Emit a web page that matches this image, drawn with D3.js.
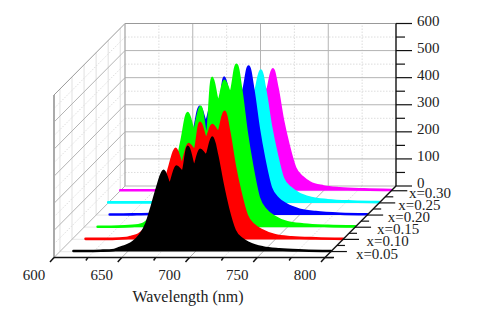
<!DOCTYPE html>
<html>
<head>
<meta charset="utf-8">
<script src="https://cdn.jsdelivr.net/npm/d3@7/dist/d3.min.js"></script>
<style>
  html, body { margin: 0; padding: 0; background: #fff; }
  text { font-family: "Liberation Serif", serif; fill: #222; }
</style>
</head>
<body>
<svg id="chart" width="488" height="312"></svg>
<script>
const wavelengths = [600,610,620,630,640,644,649,654,659,664,668,672,676.5,681,686,690.5,694.5,699,703.5,708,712.5,716,720,724,729,734.5,740,750,762,780,800];

const s005 = [null,2,2,3,6,13,22,35,60,105,170,240,298,253,314,295,387,318,376,356,421,355,250,160,78,46,30,15,8,4,2];
const s010 = [null,2,2,2,5,10,18,40,85,135,195,270,334,284,352,330,430,376,422,398,471,397,275,180,88,52,34,15,8,4,2];
const s015 = [null,2,2,3,7,13,36,62,105,165,225,320,422,362,445,336,552,465,541,498,600,506,350,228,108,62,40,18,10,5,3];
const s020 = [null,2,2,3,4,10,25,50,95,155,215,305,400,350,420,370,508,430,495,455,548,462,320,208,100,60,40,20,11,5,3];
const s025 = [2,2,2,2,3,6,15,35,75,135,190,270,355,310,375,330,455,395,440,410,489,412,285,187,90,56,36,18,10,5,3];
const s030 = [2,2,2,2,2,5,12,30,65,120,170,245,330,285,345,305,420,365,405,370,448,378,261,172,85,50,30,16,9,5,3];

const seriesNames = ["x=0.05","x=0.10","x=0.15","x=0.20","x=0.25","x=0.30"];
const seriesZ = [0.05,0.10,0.15,0.20,0.25,0.30];
const seriesValues = [s005,s010,s015,s020,s025,s030];
const seriesColors = ["#000000","#ff0000","#00ff00","#0000ff","#00ffff","#ff00ff"];

const xMajor = [600,650,700,750,800];
const xMinor = [625,675,725,775];
const yMajor = [0,100,200,300,400,500,600];
const yMinor = [50,150,250,350,450,550];
const zMinor = [0.025,0.075,0.125,0.175,0.225,0.275];

const svg = d3.select("#chart");

const x = d3.scaleLinear().domain([600,800]).range([54,325]);
const y = d3.scaleLinear().domain([0,600]).range([257.5,95]);
const depth = d3.scaleLinear().domain([0.0255,0.3195]).range([0,1]);
const xLabel = d3.scaleLinear().domain([600,800]).range([34,305]);
const zLabel = d3.scaleLinear().domain([0.05,0.30]).range([377,430]);

const px = (w, t) => x(w) + 71 * t;
const py = (v, t) => y(v) - 71.5 * t;

function seg(g, x1, y1, x2, y2, color, width, dash) {
  g.append("line")
    .attr("x1", x1).attr("y1", y1).attr("x2", x2).attr("y2", y2)
    .attr("stroke", color).attr("stroke-width", width)
    .attr("stroke-dasharray", dash || null);
}

// walls and floor grid
const grid = svg.append("g");

seriesZ.forEach(z => {
  const t = depth(z);
  seg(grid, px(600,t), py(0,t), px(600,t), py(600,t), "#e6e6e6", 1.2);
  seg(grid, px(600,t), py(0,t), px(800,t), py(0,t), "#ececec", 1.2);
});

xMinor.forEach(w => {
  seg(grid, px(w,1), py(0,1), px(w,1), py(600,1), "#dddddd", 1, "1.5 1.5");
  seg(grid, px(w,0), py(0,0), px(w,1), py(0,1), "#dddddd", 1, "1.5 1.5");
});
yMinor.forEach(v => {
  seg(grid, px(600,1), py(v,1), px(800,1), py(v,1), "#dddddd", 1, "1.5 1.5");
  seg(grid, px(600,0), py(v,0), px(600,1), py(v,1), "#dddddd", 1, "1.5 1.5");
});
xMajor.slice(1,4).forEach(w => {
  seg(grid, px(w,1), py(0,1), px(w,1), py(600,1), "#b4b4b4", 1);
  seg(grid, px(w,0), py(0,0), px(w,1), py(0,1), "#b4b4b4", 1);
});
yMajor.forEach(v => {
  seg(grid, px(600,1), py(v,1), px(800,1), py(v,1), v === 600 ? "#999999" : "#b4b4b4", v === 600 ? 1.2 : 1);
  seg(grid, px(600,0), py(v,0), px(600,1), py(v,1), v === 600 ? "#999999" : "#b4b4b4", 1);
});
seg(grid, px(600,1), py(0,1), px(600,1), py(600,1), "#aaaaaa", 1.3);
seg(grid, px(600,0), py(0,0), px(600,0), py(600,0), "#aaaaaa", 2);

// spectra, back to front
const rows = seriesZ.map((z, i) => ({ t: depth(z), values: seriesValues[i], color: seriesColors[i] })).reverse();

rows.forEach(r => {
  const pts = wavelengths.map((w, j) => [w, r.values[j]]).filter(d => d[1] !== null);
  const area = d3.area()
    .x(d => px(d[0], r.t))
    .y0(py(0, r.t))
    .y1(d => py(d[1], r.t))
    .curve(d3.curveMonotoneX);
  const line = d3.line()
    .x(d => px(d[0], r.t))
    .y(d => py(d[1], r.t))
    .curve(d3.curveMonotoneX);
  svg.append("path").attr("d", area(pts)).attr("fill", r.color);
  svg.append("path").attr("d", line(pts)).attr("fill", "none")
    .attr("stroke", r.color).attr("stroke-width", 2.6).attr("stroke-linecap", "round");
});

// axes
const axes = svg.append("g");
const ink = "#111";

seg(axes, px(600,0), py(0,0), px(800,0) + 9, py(0,0), ink, 1.4);
xMajor.forEach(w => {
  seg(axes, x(w), py(0,0), x(w) - 4, py(0,0) + 4.5, ink, 1.5);
  axes.append("text").attr("x", xLabel(w)).attr("y", 280)
    .attr("text-anchor", "middle").attr("font-size", 15).text(w);
});
xMinor.forEach(w => seg(axes, x(w), py(0,0), x(w) - 2, py(0,0) + 3, ink, 1.4));

seg(axes, px(800,0), py(0,0), px(800,1), py(0,1), ink, 1.4);
seriesZ.forEach((z, i) => {
  const t = depth(z);
  seg(axes, px(800,t), py(0,t), px(800,t) + 16, py(0,t), ink, 1.2);
  axes.append("text").attr("x", zLabel(z)).attr("y", py(0,t) + 7)
    .attr("text-anchor", "middle").attr("font-size", 15).text(seriesNames[i]);
});
zMinor.forEach(z => {
  const t = depth(z);
  seg(axes, px(800,t), py(0,t), px(800,t) + 8, py(0,t), ink, 1.2);
});

seg(axes, px(800,1), py(0,1), px(800,1), py(600,1), ink, 1.4);
yMajor.forEach(v => {
  seg(axes, px(800,1), py(v,1), px(800,1) + 16, py(v,1), ink, 1.2);
  axes.append("text").attr("x", 417).attr("y", py(v,1) + 2)
    .attr("font-size", 15).text(v);
});
yMinor.forEach(v => seg(axes, px(800,1), py(v,1), px(800,1) + 9, py(v,1), ink, 1.2));

svg.append("text").attr("x", 188).attr("y", 301.5).attr("text-anchor", "middle")
  .attr("font-size", 16).text("Wavelength (nm)");
</script>
</body>
</html>
